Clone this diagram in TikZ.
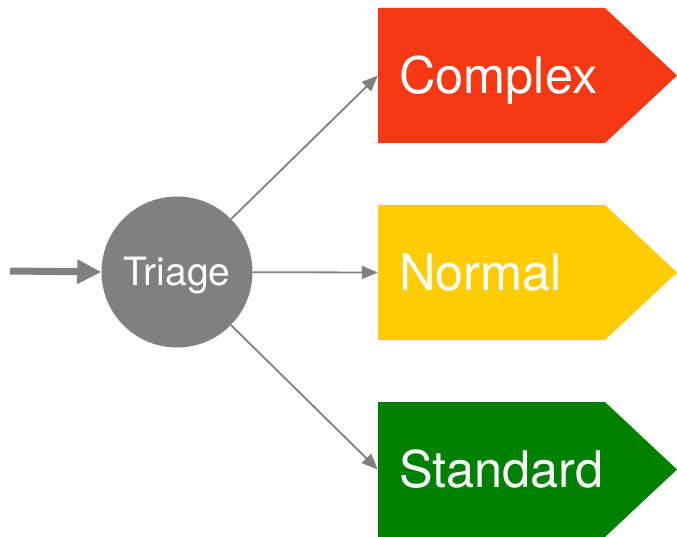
\documentclass[tikz,border=0pt]{standalone}
\usepackage{fontspec}
\setmainfont{TeX Gyre Heros}
\usetikzlibrary{shapes.symbols,arrows.meta}
\definecolor{complexred}{RGB}{245,57,21}
\definecolor{normalyellow}{RGB}{255,204,0}
\definecolor{standardgreen}{RGB}{0,128,0}
\definecolor{triagegray}{RGB}{128,128,128}
\tikzset{
  tag/.style={signal,signal to=east,signal pointer angle=86.3,
    minimum height=135pt,minimum width=299pt,inner xsep=21pt,inner ysep=0pt,
    text width=185pt,align=left,text=white,text height=36pt,text depth=0pt,
    font=\fontsize{50.5}{60}\selectfont},
  flow/.style={draw=triagegray,line width=1.8pt,-{Triangle[length=16pt,width=13pt]}}
}
\begin{document}
\begin{tikzpicture}[x=1pt,y=-1pt]
  \useasboundingbox (0,0) rectangle (677,537);
  \node (T) at (177,272) [circle,fill=triagegray,minimum size=151pt,inner sep=0pt,
    text=white,text height=27pt,text depth=0pt,font=\fontsize{39}{46}\selectfont] {Triage};
  \begin{scope}[every node/.style={tag}]
  \node (C) [fill=complexred] at (491.5,75.5) {Complex};
  \node (N) [fill=normalyellow] at (491.5,272.5) {Normal};
  \node (S) [fill=standardgreen] at (491.5,469.5) {Standard};
  \end{scope}
  \coordinate (E) at (10,271);
  \draw [triagegray,line width=7pt,-{Triangle[length=24pt,width=23pt]}] (E) -- (T.west);
  \path (T) edge [flow] (C.west);
  \path (T) edge [flow] (N.west);
  \path (T) edge [flow] (S.west);
\end{tikzpicture}
\end{document}
